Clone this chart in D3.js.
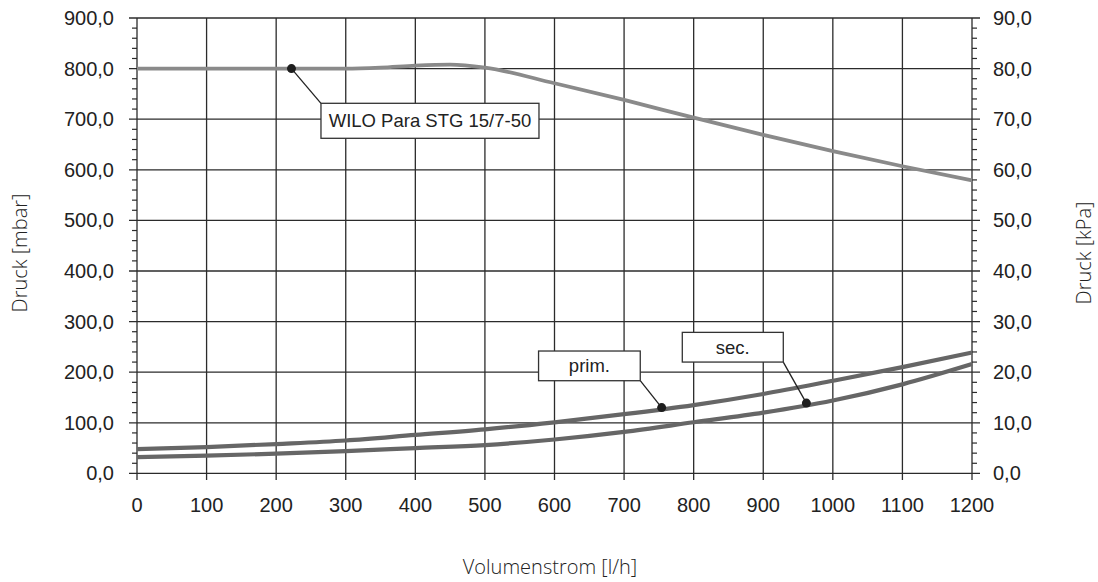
<!DOCTYPE html>
<html>
<head>
<meta charset="utf-8">
<script src="https://cdn.jsdelivr.net/npm/d3@7"></script>
<style>
  body { margin: 0; background: #fff; }
  .tick-label { font-family: "Liberation Sans", Arial, sans-serif; font-size: 20px; fill: #222; }
  .axis-title { font-family: "Open Sans", sans-serif; font-weight: 300; font-size: 20px; fill: #222; }
  .note { font-family: "Liberation Sans", Arial, sans-serif; font-size: 18.5px; fill: #222; }
</style>
</head>
<body>
<div id="chart"></div>
<script>
// flow rates [l/h]
var flow = [0, 100, 200, 300, 400, 500, 600, 700, 800, 900, 1000, 1100, 1200];

// pressure drop [mbar]
var primValues = [48, 52, 58, 65, 76, 87, 101, 117, 135, 157, 183, 210, 239];
var secValues = [32, 35, 39, 44, 50, 56, 67, 82, 101, 120, 144, 176, 216];

// pump curve [mbar]
var pumpFlow = [0, 100, 200, 300, 350, 400, 450, 500, 600, 700, 800, 900, 1000, 1100, 1200];
var pumpValues = [800, 800, 800, 800, 802, 806, 808, 802, 771, 738, 703, 669, 637, 607, 579];

var xTicks = [0, 100, 200, 300, 400, 500, 600, 700, 800, 900, 1000, 1100, 1200];
var yTicksMbar = [0, 100, 200, 300, 400, 500, 600, 700, 800, 900];
var yTicksKpa = [0, 10, 20, 30, 40, 50, 60, 70, 80, 90];

// callout labels and the point they mark
var noteText = ["WILO Para STG 15/7-50", "prim.", "sec."];
var noteFlow = [222, 754, 962];
var noteValue = [800, 130, 139];

var svgWidth = 1098;
var svgHeight = 582;

var margin = { top: 18, right: 126, bottom: 109, left: 137 };
var width = 972 - margin.left;
var height = 473.4 - margin.top;

var svg = d3.select("#chart")
  .append("svg")
  .attr("width", svgWidth)
  .attr("height", svgHeight);

var chartGroup = svg.append("g")
  .attr("transform", `translate(${margin.left}, ${margin.top})`);

var xScale = d3.scaleLinear().domain([0, 1200]).range([0, width]);
var yScale = d3.scaleLinear().domain([0, 900]).range([height, 0]);
var yScaleKpa = d3.scaleLinear().domain([0, 90]).range([height, 0]);

var fmt = d3.formatLocale({ decimal: ",", thousands: ".", grouping: [3], currency: ["", "€"] }).format(".1f");

var gridColor = "#2b2b2b";

// grid
chartGroup.append("g")
  .selectAll("line")
  .data(xTicks)
  .enter()
  .append("line")
  .attr("x1", d => xScale(d))
  .attr("x2", d => xScale(d))
  .attr("y1", 0)
  .attr("y2", height + 6.5)
  .attr("stroke", gridColor)
  .attr("stroke-width", 1.3);

chartGroup.append("g")
  .selectAll("line")
  .data(yTicksMbar)
  .enter()
  .append("line")
  .attr("x1", -8)
  .attr("x2", width + 8)
  .attr("y1", d => yScale(d))
  .attr("y2", d => yScale(d))
  .attr("stroke", gridColor)
  .attr("stroke-width", 1.3);

// minor ticks, every 20 mbar / 2 kPa
var minor = d3.range(0, 901, 20).filter(d => d % 100 !== 0);
chartGroup.append("g")
  .selectAll("line")
  .data(minor)
  .enter()
  .append("line")
  .attr("x1", -5)
  .attr("x2", 0)
  .attr("y1", d => yScale(d))
  .attr("y2", d => yScale(d))
  .attr("stroke", gridColor)
  .attr("stroke-width", 1.2);

chartGroup.append("g")
  .selectAll("line")
  .data(minor)
  .enter()
  .append("line")
  .attr("x1", width)
  .attr("x2", width + 5)
  .attr("y1", d => yScale(d))
  .attr("y2", d => yScale(d))
  .attr("stroke", gridColor)
  .attr("stroke-width", 1.2);

// tick labels
chartGroup.append("g")
  .selectAll("text")
  .data(yTicksMbar)
  .enter()
  .append("text")
  .attr("class", "tick-label")
  .attr("x", -23)
  .attr("y", d => yScale(d))
  .attr("dy", "0.35em")
  .attr("text-anchor", "end")
  .text(d => fmt(d));

chartGroup.append("g")
  .selectAll("text")
  .data(yTicksKpa)
  .enter()
  .append("text")
  .attr("class", "tick-label")
  .attr("x", width + 21)
  .attr("y", d => yScaleKpa(d))
  .attr("dy", "0.35em")
  .attr("text-anchor", "start")
  .text(d => fmt(d));

chartGroup.append("g")
  .selectAll("text")
  .data(xTicks)
  .enter()
  .append("text")
  .attr("class", "tick-label")
  .attr("x", d => xScale(d))
  .attr("y", height + 32)
  .attr("dy", "0.35em")
  .attr("text-anchor", "middle")
  .text(d => d);

// axis titles
svg.append("text")
  .attr("class", "axis-title")
  .attr("transform", "translate(27, 253) rotate(-90)")
  .attr("text-anchor", "middle")
  .text("Druck [mbar]");

svg.append("text")
  .attr("class", "axis-title")
  .attr("transform", "translate(1091, 253) rotate(-90)")
  .attr("text-anchor", "middle")
  .text("Druck [kPa]");

svg.append("text")
  .attr("class", "axis-title")
  .attr("x", 550)
  .attr("y", 574)
  .attr("text-anchor", "middle")
  .text("Volumenstrom [l/h]");

// curves
var line = d3.line()
  .x(d => xScale(d[0]))
  .y(d => yScale(d[1]))
  .curve(d3.curveMonotoneX);

chartGroup.append("path")
  .datum(d3.zip(pumpFlow, pumpValues))
  .attr("d", line)
  .attr("fill", "none")
  .attr("stroke", "#8a8a8a")
  .attr("stroke-width", 3.8);

chartGroup.append("path")
  .datum(d3.zip(flow, secValues))
  .attr("d", line)
  .attr("fill", "none")
  .attr("stroke", "#666")
  .attr("stroke-width", 4.2);

chartGroup.append("path")
  .datum(d3.zip(flow, primValues))
  .attr("d", line)
  .attr("fill", "none")
  .attr("stroke", "#666")
  .attr("stroke-width", 4.2);

// callouts: box offset from the marked point, in px
var boxLayout = [
  { dx: 29.5, dy: 34.7, w: 218, h: 35, corner: "tl" },
  { dx: -123.1, dy: -56.6, w: 101.7, h: 29.7, corner: "br" },
  { dx: -124.1, dy: -70.7, w: 101, h: 29.7, corner: "br" }
];

noteText.forEach(function(t, i) {
  var px = xScale(noteFlow[i]);
  var py = yScale(noteValue[i]);
  var b = boxLayout[i];
  var bx = px + b.dx;
  var by = py + b.dy;
  var cx = b.corner === "tl" ? bx : bx + b.w;
  var cy = b.corner === "tl" ? by : by + b.h;

  chartGroup.append("line")
    .attr("x1", px).attr("y1", py)
    .attr("x2", cx).attr("y2", cy)
    .attr("stroke", "#222")
    .attr("stroke-width", 1.3);

  chartGroup.append("rect")
    .attr("x", bx).attr("y", by)
    .attr("width", b.w).attr("height", b.h)
    .attr("fill", "#fff")
    .attr("stroke", "#333")
    .attr("stroke-width", 1.3);

  chartGroup.append("text")
    .attr("class", "note")
    .attr("x", bx + b.w / 2)
    .attr("y", by + b.h / 2)
    .attr("dy", "0.35em")
    .attr("text-anchor", "middle")
    .text(t);

  chartGroup.append("circle")
    .attr("cx", px).attr("cy", py)
    .attr("r", 4.5)
    .attr("fill", "#1e1e1e");
});
</script>
</body>
</html>
